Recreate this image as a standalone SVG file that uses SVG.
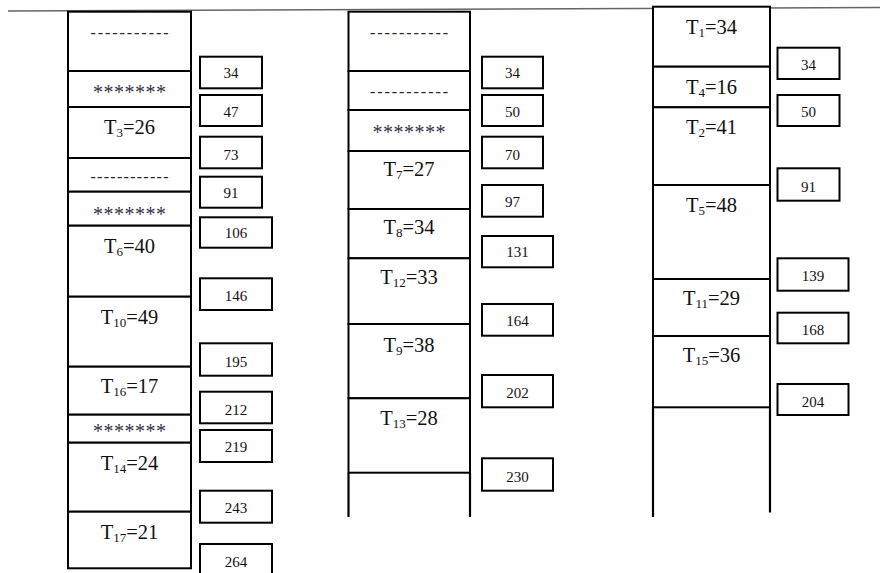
<svg xmlns="http://www.w3.org/2000/svg" width="880" height="573" viewBox="0 0 880 573">
<style>
.cell{fill:#fff;stroke:#000;stroke-width:2}
.open{stroke:#000;stroke-width:2.2;fill:none}
.box{fill:#fff;stroke:#000;stroke-width:2}
.lbl{font-family:"Liberation Serif","Times New Roman",serif;font-size:20.5px;fill:#111;text-anchor:middle}
.sub{font-size:13px}
.num{font-family:"Liberation Serif","Times New Roman",serif;font-size:15px;fill:#111;text-anchor:middle}
.dash{font-family:"Liberation Serif","Times New Roman",serif;font-size:16px;fill:#223;text-anchor:middle}
.ast{font-family:"Liberation Serif","Times New Roman",serif;font-size:20px;fill:#334;text-anchor:middle}
</style>
<line x1="8" y1="11" x2="880" y2="7.5" stroke="#666" stroke-width="1.5"/>

<!-- Left column -->
<g id="col1">
<g id="c1_1"><rect class="cell" x="68" y="11.7" width="123" height="59.3"/><text class="dash" x="129.5" y="38" textLength="78" lengthAdjust="spacing">-----------</text></g>
<g id="c1_2"><rect class="cell" x="68" y="71" width="123" height="36"/><text class="ast" x="129.5" y="99" textLength="73" lengthAdjust="spacing">*******</text></g>
<g id="c1_3"><rect class="cell" x="68" y="107" width="123" height="51"/><text class="lbl" x="129.5" y="134">T<tspan class="sub" dy="3">3</tspan><tspan dy="-3">=26</tspan></text></g>
<g id="c1_4"><rect class="cell" x="68" y="158" width="123" height="33.7"/><text class="dash" x="129.5" y="182" textLength="78" lengthAdjust="spacing">------------</text></g>
<g id="c1_5"><rect class="cell" x="68" y="191.7" width="123" height="34"/><text class="ast" x="129.5" y="221" textLength="73" lengthAdjust="spacing">*******</text></g>
<g id="c1_6"><rect class="cell" x="68" y="225.7" width="123" height="71"/><text class="lbl" x="129.5" y="253">T<tspan class="sub" dy="3">6</tspan><tspan dy="-3">=40</tspan></text></g>
<g id="c1_7"><rect class="cell" x="68" y="296.7" width="123" height="70"/><text class="lbl" x="129.5" y="324">T<tspan class="sub" dy="3">10</tspan><tspan dy="-3">=49</tspan></text></g>
<g id="c1_8"><rect class="cell" x="68" y="366.7" width="123" height="48"/><text class="lbl" x="129.5" y="393">T<tspan class="sub" dy="3">16</tspan><tspan dy="-3">=17</tspan></text></g>
<g id="c1_9"><rect class="cell" x="68" y="414.7" width="123" height="28"/><text class="ast" x="129.5" y="438" font-size="13" textLength="73" lengthAdjust="spacing">*******</text></g>
<g id="c1_10"><rect class="cell" x="68" y="442.7" width="123" height="69"/><text class="lbl" x="129.5" y="470">T<tspan class="sub" dy="3">14</tspan><tspan dy="-3">=24</tspan></text></g>
<g id="c1_11"><rect class="cell" x="68" y="511.7" width="123" height="56.6"/><text class="lbl" x="129.5" y="539">T<tspan class="sub" dy="3">17</tspan><tspan dy="-3">=21</tspan></text></g>
</g>

<!-- Middle column -->
<g id="col2">
<g id="c2_1"><rect class="cell" x="348.5" y="11.7" width="121.5" height="59.3"/><text class="dash" x="409" y="38" textLength="78" lengthAdjust="spacing">-----------</text></g>
<g id="c2_2"><rect class="cell" x="348.5" y="71" width="121.5" height="39"/><text class="dash" x="409" y="97" textLength="78" lengthAdjust="spacing">-----------</text></g>
<g id="c2_3"><rect class="cell" x="348.5" y="110" width="121.5" height="41"/><text class="ast" x="409" y="139" textLength="73" lengthAdjust="spacing">*******</text></g>
<g id="c2_4"><rect class="cell" x="348.5" y="151" width="121.5" height="58"/><text class="lbl" x="409" y="176">T<tspan class="sub" dy="3">7</tspan><tspan dy="-3">=27</tspan></text></g>
<g id="c2_5"><rect class="cell" x="348.5" y="209" width="121.5" height="49.3"/><text class="lbl" x="409" y="234">T<tspan class="sub" dy="3">8</tspan><tspan dy="-3">=34</tspan></text></g>
<g id="c2_6"><rect class="cell" x="348.5" y="258.3" width="121.5" height="65.7"/><text class="lbl" x="409" y="284">T<tspan class="sub" dy="3">12</tspan><tspan dy="-3">=33</tspan></text></g>
<g id="c2_7"><rect class="cell" x="348.5" y="324" width="121.5" height="74.3"/><text class="lbl" x="409" y="352">T<tspan class="sub" dy="3">9</tspan><tspan dy="-3">=38</tspan></text></g>
<g id="c2_8"><rect class="cell" x="348.5" y="398.3" width="121.5" height="74.4"/><text class="lbl" x="409" y="425">T<tspan class="sub" dy="3">13</tspan><tspan dy="-3">=28</tspan></text></g>
<path id="c2_open" class="open" d="M348.5,472.7 V517 M470,472.7 V517"/>
</g>

<!-- Right column -->
<g id="col3">
<g id="c3_1"><rect class="cell" x="653" y="6.7" width="117" height="60"/><text class="lbl" x="711.5" y="34">T<tspan class="sub" dy="3">1</tspan><tspan dy="-3">=34</tspan></text></g>
<g id="c3_2"><rect class="cell" x="653" y="66.7" width="117" height="40.6"/><text class="lbl" x="711.5" y="94">T<tspan class="sub" dy="3">4</tspan><tspan dy="-3">=16</tspan></text></g>
<g id="c3_3"><rect class="cell" x="653" y="107.3" width="117" height="77.7"/><text class="lbl" x="711.5" y="134">T<tspan class="sub" dy="3">2</tspan><tspan dy="-3">=41</tspan></text></g>
<g id="c3_4"><rect class="cell" x="653" y="185" width="117" height="94"/><text class="lbl" x="711.5" y="212">T<tspan class="sub" dy="3">5</tspan><tspan dy="-3">=48</tspan></text></g>
<g id="c3_5"><rect class="cell" x="653" y="279" width="117" height="57"/><text class="lbl" x="711.5" y="305">T<tspan class="sub" dy="3">11</tspan><tspan dy="-3">=29</tspan></text></g>
<g id="c3_6"><rect class="cell" x="653" y="336" width="117" height="71.3"/><text class="lbl" x="711.5" y="362">T<tspan class="sub" dy="3">15</tspan><tspan dy="-3">=36</tspan></text></g>
<path id="c3_open" class="open" d="M653,407.3 V517 M770,407.3 V512.5"/>
</g>

<!-- Left number boxes -->
<g id="n1">
<g id="n1_34"><rect class="box" x="200" y="56.7" width="62" height="31.6"/><text class="num" x="231" y="78">34</text></g>
<g id="n1_47"><rect class="box" x="200" y="95" width="62" height="31"/><text class="num" x="231" y="117">47</text></g>
<g id="n1_73"><rect class="box" x="200" y="136.7" width="62" height="31.6"/><text class="num" x="231" y="160">73</text></g>
<g id="n1_91"><rect class="box" x="200" y="176.7" width="62" height="31"/><text class="num" x="231" y="198">91</text></g>
<g id="n1_106"><rect class="box" x="200" y="217.3" width="72" height="30.4"/><text class="num" x="236" y="238">106</text></g>
<g id="n1_146"><rect class="box" x="200" y="278.3" width="72" height="31.7"/><text class="num" x="236" y="301">146</text></g>
<g id="n1_195"><rect class="box" x="200" y="343.3" width="72" height="32.4"/><text class="num" x="236" y="367">195</text></g>
<g id="n1_212"><rect class="box" x="200" y="391.7" width="72" height="31.6"/><text class="num" x="236" y="415">212</text></g>
<g id="n1_219"><rect class="box" x="200" y="430" width="72" height="32"/><text class="num" x="236" y="452">219</text></g>
<g id="n1_243"><rect class="box" x="200" y="490.7" width="72" height="32"/><text class="num" x="236" y="513">243</text></g>
<g id="n1_264"><rect class="box" x="200" y="544" width="72" height="32"/><text class="num" x="236" y="567">264</text></g>
</g>

<!-- Middle number boxes -->
<g id="n2">
<g id="n2_34"><rect class="box" x="482" y="56.7" width="61" height="31.6"/><text class="num" x="512.5" y="78">34</text></g>
<g id="n2_50"><rect class="box" x="482" y="95" width="61" height="31"/><text class="num" x="512.5" y="117">50</text></g>
<g id="n2_70"><rect class="box" x="482" y="136.7" width="61" height="31.6"/><text class="num" x="512.5" y="160">70</text></g>
<g id="n2_97"><rect class="box" x="482" y="185" width="61" height="31.7"/><text class="num" x="512.5" y="207">97</text></g>
<g id="n2_131"><rect class="box" x="482" y="236" width="71" height="31.3"/><text class="num" x="517.5" y="257">131</text></g>
<g id="n2_164"><rect class="box" x="482" y="304" width="71" height="31.7"/><text class="num" x="517.5" y="326">164</text></g>
<g id="n2_202"><rect class="box" x="482" y="375" width="71" height="32.3"/><text class="num" x="517.5" y="398">202</text></g>
<g id="n2_230"><rect class="box" x="482" y="458.3" width="71" height="32.4"/><text class="num" x="517.5" y="482">230</text></g>
</g>

<!-- Right number boxes -->
<g id="n3">
<g id="n3_34"><rect class="box" x="777.5" y="47.7" width="62" height="31.3"/><text class="num" x="808.5" y="70">34</text></g>
<g id="n3_50"><rect class="box" x="777.5" y="95" width="62" height="31"/><text class="num" x="808.5" y="117">50</text></g>
<g id="n3_91"><rect class="box" x="777.5" y="168.3" width="62" height="32.4"/><text class="num" x="808.5" y="192">91</text></g>
<g id="n3_139"><rect class="box" x="777.5" y="258.3" width="71" height="32.4"/><text class="num" x="813" y="281">139</text></g>
<g id="n3_168"><rect class="box" x="777.5" y="312.7" width="71" height="30.6"/><text class="num" x="813" y="335">168</text></g>
<g id="n3_204"><rect class="box" x="777.5" y="384" width="71" height="31"/><text class="num" x="813" y="407">204</text></g>
</g>
</svg>
